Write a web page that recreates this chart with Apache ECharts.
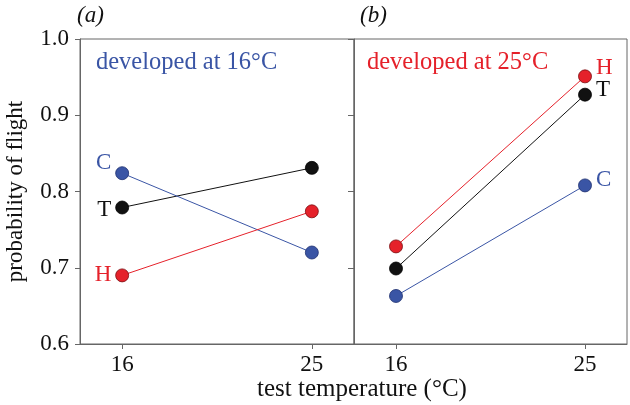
<!DOCTYPE html>
<html><head><meta charset="utf-8">
<script src="https://cdn.jsdelivr.net/npm/echarts@6/dist/echarts.min.js"></script>
<style>html,body{margin:0;padding:0;background:#fff}#c{width:630px;height:405px}</style>
</head><body><div id="c"></div>
<script>
const testTemps = [16, 25];
const yTicks = [0.6, 0.7, 0.8, 0.9, 1.0];
const panels = ['(a)', '(b)'];
const panelTitles = ['developed at 16°C', 'developed at 25°C'];
const groupNames = ['C', 'T', 'H'];
// developed at 16°C
const dev16_C = [0.824, 0.720];
const dev16_T = [0.779, 0.831];
const dev16_H = [0.690, 0.774];
// developed at 25°C
const dev25_C = [0.663, 0.808];
const dev25_T = [0.699, 0.927];
const dev25_H = [0.728, 0.951];

const colors = { C: '#3a55a5', T: '#111111', H: '#e5212a' };
const borders = { C: '#1d2f6e', T: '#000000', H: '#7a0d10' };
const FONT = '"Liberation Serif", "DejaVu Serif", serif';

function mk(name, vals, gi, labelIdx, pos, offY) {
  return {
    type: 'line', name: name, xAxisIndex: gi, yAxisIndex: gi,
    symbol: 'circle', symbolSize: 13,
    lineStyle: { color: colors[name], width: 1 },
    itemStyle: { color: colors[name], borderColor: borders[name], borderWidth: 0.8 },
    emphasis: { disabled: true },
    data: vals.map((v, i) => {
      const d = { value: [testTemps[i], v] };
      if (i === labelIdx) {
        d.label = { show: true, formatter: name, position: pos, distance: 4, offset: [0, offY],
          color: colors[name], fontFamily: FONT, fontSize: 23 };
      }
      return d;
    }),
    z: 3
  };
}

const xAxisBase = (gi) => ({
  gridIndex: gi, type: 'value', min: 14, max: 27,
  axisLine: { show: true, lineStyle: { color: '#666', width: 1 } },
  axisTick: { show: true, length: 5, customValues: testTemps, lineStyle: { color: '#666' } },
  axisLabel: { show: true, customValues: testTemps, margin: 9, color: '#111', fontFamily: FONT, fontSize: 23 },
  splitLine: { show: false }
});

const option = {
  animation: false,
  grid: [
    { left: 80, right: 276, top: 39, bottom: 61, show: true, borderColor: '#666', borderWidth: 1 },
    { left: 354, right: 3, top: 39, bottom: 61, show: true, borderColor: '#666', borderWidth: 1 }
  ],
  xAxis: [xAxisBase(0), xAxisBase(1)],
  yAxis: [
    { gridIndex: 0, type: 'value', min: 0.6, max: 1.0, interval: 0.1,
      name: 'probability of flight', nameLocation: 'middle', nameGap: 53,
      nameTextStyle: { color: '#111', fontFamily: FONT, fontSize: 23 },
      axisLine: { show: true, lineStyle: { color: '#666' } },
      axisTick: { show: true, length: 5, lineStyle: { color: '#666' } },
      axisLabel: { color: '#111', fontFamily: FONT, fontSize: 23, margin: 11, formatter: v => v.toFixed(1) },
      splitLine: { show: false } },
    { gridIndex: 1, type: 'value', min: 0.6, max: 1.0, interval: 0.1,
      axisLine: { show: true, lineStyle: { color: '#666' } },
      axisTick: { show: true, length: 6, lineStyle: { color: '#666' } },
      axisLabel: { show: false },
      splitLine: { show: false } }
  ],
  graphic: [
    { type: 'text', left: 77, top: 4, style: { text: panels[0], font: 'italic 23px ' + FONT, fill: '#111' } },
    { type: 'text', left: 360, top: 4, style: { text: panels[1], font: 'italic 23px ' + FONT, fill: '#111' } },
    { type: 'text', left: 96, top: 50, style: { text: panelTitles[0], font: '24.5px ' + FONT, fill: colors.C } },
    { type: 'text', left: 367, top: 50, style: { text: panelTitles[1], font: '24.5px ' + FONT, fill: colors.H } },
    { type: 'text', left: 257, top: 377, style: { text: 'test temperature (°C)', font: '25px ' + FONT, fill: '#111' } }
  ],
  series: [
    mk('T', dev16_T, 0, 0, 'left', 2),
    mk('C', dev16_C, 0, 0, 'left', -10),
    mk('H', dev16_H, 0, 0, 'left', 0),
    mk('C', dev25_C, 1, 1, 'right', -5),
    mk('T', dev25_T, 1, 1, 'right', -5),
    mk('H', dev25_H, 1, 1, 'right', -8)
  ]
};
const chart = echarts.init(document.getElementById('c'), null, { renderer: 'canvas' });
chart.setOption(option);
</script></body></html>
